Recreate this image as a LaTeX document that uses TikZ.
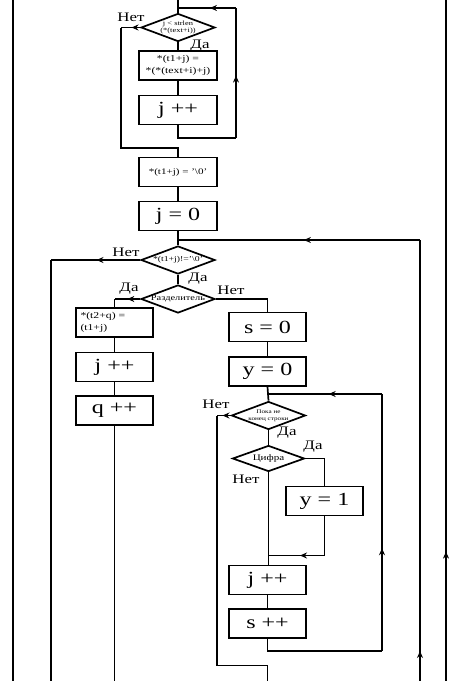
\documentclass[tikz,border=0pt]{standalone}
\usepackage{fontspec}
\setmainfont[FakeStretch=1.3]{Liberation Serif}
\usetikzlibrary{shapes.geometric,arrows.meta,decorations.markings}
\newcommand{\bigt}{\fontsize{18.5}{19}\selectfont}
\newcommand{\smt}{\fontsize{9}{11.5}\selectfont}
\begin{document}
\begin{tikzpicture}[x=1pt,y=-1pt,line width=1.7pt,
  box/.style={draw,rectangle,minimum width=78pt,minimum height=29pt,inner sep=1pt,align=center},
  dia/.style={draw,diamond,minimum width=74pt,minimum height=28pt,inner sep=0pt,aspect=2.6},
  lbl/.style={font=\fontsize{13}{13}\selectfont,inner sep=0pt},
  arr/.style={postaction={decorate},decoration={markings,mark=at position #1 with {\arrow{Stealth[length=7pt,width=6pt]}}}}]
\useasboundingbox (0,0) rectangle (464,681);
% outer lines
\coordinate (L0) at (13,0); \coordinate (L1) at (13,681);
\coordinate (R0) at (446,0); \coordinate (R1) at (446,681);
\draw (L0) -- (L1);
\draw[arr=0.19] (R1) -- (R0);
% nodes
\node[dia] (D1) at (178,27.5) {\makebox[0pt]{\fontsize{6.5}{7.5}\selectfont\begin{tabular}{@{}c@{}}j < strlen\\(*(text+i))\end{tabular}}};
\node[box,font=\smt] (B1) at (178,65.5) {*(t1+j) =\\*(*(text+i)+j)};
\node[box,font=\bigt] (B2) at (178,110) {j ++};
\node[box,font=\fontsize{8.5}{9}\selectfont] (B3) at (178,172) {*(t1+j) = '\textbackslash 0'};
\node[box,font=\bigt] (B4) at (178,216) {j = 0};
\node[dia] (D2) at (178,260) {\makebox[0pt]{\fontsize{7.5}{8}\selectfont *(t1+j)!='\textbackslash 0'}};
\node[dia] (D3) at (178,299) {\makebox[0pt]{\fontsize{8}{8}\selectfont Разделитель}};
\node[box,minimum width=77pt,text width=68pt,align=left,font=\smt] (B5) at (114.5,322.5) {*(t2+q) =\\*(t1+j)};
\node[box,minimum width=77pt,font=\bigt] (B6) at (114.5,367) {j ++};
\node[box,minimum width=77pt,font=\bigt] (B7) at (114.5,410.5) {q ++};
\node[box,minimum width=77pt,font=\bigt] (S0) at (267.5,327) {s = 0};
\node[box,minimum width=77pt,font=\bigt] (Y0) at (267.5,371.5) {y = 0};
\node[dia] (D4) at (268.5,415.5) {\makebox[0pt]{\fontsize{5.5}{6.5}\selectfont\begin{tabular}{@{}c@{}}Пока не\\конец строки\end{tabular}}};
\node[dia,minimum width=72pt,minimum height=26pt] (D5) at (268.5,458.5) {\makebox[0pt]{\fontsize{8.5}{9}\selectfont Цифра}};
\node[box,minimum width=77pt,font=\bigt] (Y1) at (324.5,501) {y = 1};
\node[box,minimum width=77pt,font=\bigt] (JP) at (267.5,580) {j ++};
\node[box,minimum width=77pt,font=\bigt] (SP) at (267.5,623.5) {s ++};
% labels
\node[lbl] (l1) at (131,17) {Нет};
\node[lbl] (l2) at (200,46) {Да};
\node[lbl] (l3) at (126,252) {Нет};
\node[lbl] (l4) at (198,279) {Да};
\node[lbl] (l5) at (129,289) {Да};
\node[lbl] (l6) at (231,290) {Нет};
\node[lbl] (l7) at (216,404) {Нет};
\node[lbl] (l8) at (287,433) {Да};
\node[lbl] (l9) at (313,447) {Да};
\node[lbl] (l10) at (246,479) {Нет};
% top loop
\coordinate (T0) at (178,0);
\draw (T0) -- (D1.north);
\coordinate (r0) at (178,8); \coordinate (r1) at (236,8); \coordinate (r2) at (236,138);
\draw (D1.south) -- (B1.north);
\draw (B1.south) -- (B2.north);
\draw (B2.south) |- (r2);
\draw[arr=0.48] (r2) -- (r1);
\draw[arr=0.45] (r1) -- (r0);
\coordinate (n1) at (121,27.5); \coordinate (n1b) at (121,148); \coordinate (n1c) at (178,148);
\draw[arr=0.45] (D1.west) -- (n1);
\draw (n1) -- (n1b) -- (n1c) -- (B3.north);
\draw (B3.south) -- (B4.north);
\draw (B4.south) -- (D2.north);
% return to D2
\coordinate (j2) at (178,240); \coordinate (r3) at (420,240); \coordinate (r3b) at (420,681);
\draw[arr=0.068] (r3b) -- (r3);
\draw[arr=0.48] (r3) -- (j2);
\coordinate (n2) at (51,260); \coordinate (n2b) at (51,681);
\draw[arr=0.49] (D2.west) -- (n2);
\draw (n2) -- (n2b);
\draw (D2.south) -- (D3.north);
\coordinate (d3l) at (114.5,299); \coordinate (d3r) at (267.5,299);
\draw[arr=0.5] (D3.west) -- (d3l);
\draw (d3l) -- (B5.north);
\draw (D3.east) -- (d3r) -- (S0.north);
\draw (B5.south) -- (B6.north);
\draw (B6.south) -- (B7.north);
\coordinate (b7e) at (114.5,681);
\draw (B7.south) -- (b7e);
\draw (S0.south) -- (Y0.north);
\draw (Y0.south) -- (D4.north);
% inner loop return
\coordinate (j4) at (268.5,394); \coordinate (r4) at (382,394); \coordinate (r4b) at (382,651);
\draw (SP.south) |- (r4b);
\draw[arr=0.4] (r4b) -- (r4);
\draw[arr=0.47] (r4) -- (j4);
\coordinate (n4) at (217,415.5); \coordinate (n4b) at (217,665.6); \coordinate (n4c) at (267.5,665.6); \coordinate (n4d) at (267.5,681);
\draw[arr=0.6] (D4.west) -- (n4);
\draw (n4) -- (n4b) -- (n4c) -- (n4d);
\draw (D4.south) -- (D5.north);
\coordinate (d5r) at (324.5,458.5);
\draw (D5.east) -- (d5r) -- (Y1.north);
\draw (D5.south) -- (D5.south |- JP.north);
\coordinate (y1c) at (324.5,555.5); \coordinate (j5) at (267.5,555.5);
\draw (Y1.south) -- (y1c);
\draw[arr=0.43] (y1c) -- (j5);
\draw (JP.south) -- (SP.north);
\end{tikzpicture}
\end{document}
